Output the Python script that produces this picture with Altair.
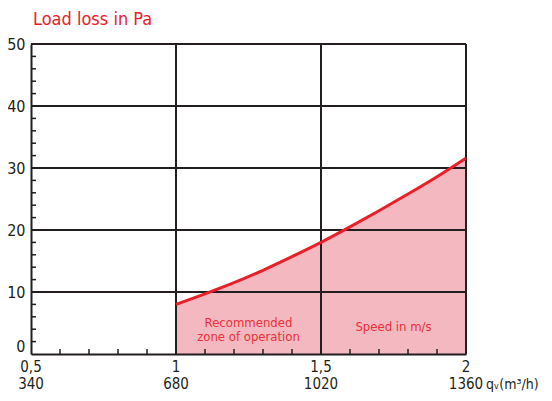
import altair as alt
import pandas as pd

# Data
speed = [1.0, 1.1, 1.2, 1.3, 1.4, 1.5, 1.6, 1.7, 1.8, 1.9, 2.0]
loss = [8.0, 9.7, 11.5, 13.5, 15.7, 18.0, 20.5, 23.1, 25.8, 28.6, 31.6]

speed_ticks = [0.5, 1.0, 1.5, 2.0]
speed_labels = ["0,5", "1", "1,5", "2"]
flow_labels = ["340", "680", "1020", "1360"]
y_ticks = [0, 10, 20, 30, 40, 50]
x_grid = [1.0, 1.5, 2.0]
y_grid = [10, 20, 30, 40, 50]
x_minor = [0.6, 0.7, 0.8, 0.9, 1.1, 1.2, 1.3, 1.4, 1.6, 1.7, 1.8, 1.9]
y_minor = [2, 4, 6, 8, 12, 14, 16, 18, 22, 24, 26, 28, 32, 34, 36, 38, 42, 44, 46, 48]

FONT = "DejaVu Sans Condensed"
RED = "#E8202A"
PINK = "#F4B9C0"
INK = "#231F20"
W, H = 435, 310

xs = alt.Scale(domain=[0.5, 2.0], nice=False, zero=False)
ys = alt.Scale(domain=[0, 50], nice=False)

curve = pd.DataFrame({"v": speed, "p": loss})

xaxis = alt.Axis(values=speed_ticks, labels=False, ticks=False, grid=False,
                 title=None, domainColor=INK, domainWidth=2, zindex=1)
yaxis = alt.Axis(values=y_ticks, ticks=False, grid=False, title=None,
                 domainColor=INK, domainWidth=2, labelFont=FONT, labelFontSize=16,
                 labelColor=INK, labelPadding=6, zindex=1,
                 labelBaseline={"condition": {"test": "datum.value == 0", "value": "bottom"},
                                "value": "middle"})

area = alt.Chart(curve).mark_area(color=PINK, opacity=1, interpolate="monotone").encode(
    x=alt.X("v:Q", scale=xs, axis=xaxis),
    y=alt.Y("p:Q", scale=ys, axis=yaxis),
)

vgrid = alt.Chart(pd.DataFrame({"v": x_grid})).mark_rule(color=INK, strokeWidth=2).encode(
    x=alt.X("v:Q", scale=xs)
)
hgrid = alt.Chart(pd.DataFrame({"p": y_grid})).mark_rule(color=INK, strokeWidth=2).encode(
    y=alt.Y("p:Q", scale=ys)
)

line = alt.Chart(curve).mark_line(color=RED, strokeWidth=3, interpolate="monotone").encode(
    x=alt.X("v:Q", scale=xs), y=alt.Y("p:Q", scale=ys)
)

xminor = alt.Chart(pd.DataFrame({"v": x_minor})).mark_rule(color=INK, strokeWidth=1.5).encode(
    x=alt.X("v:Q", scale=xs), y=alt.value(H), y2=alt.value(H - 5)
)
yminor = alt.Chart(pd.DataFrame({"p": y_minor})).mark_rule(color=INK, strokeWidth=1.5).encode(
    y=alt.Y("p:Q", scale=ys), x=alt.value(0), x2=alt.value(5)
)

lab = pd.DataFrame({"v": speed_ticks, "s": speed_labels, "f": flow_labels})
row1 = alt.Chart(lab).mark_text(font=FONT, fontSize=15, color=INK, baseline="alphabetic").encode(
    x=alt.X("v:Q", scale=xs), y=alt.value(H + 18), text="s:N"
)
row2 = alt.Chart(lab).mark_text(font=FONT, fontSize=15, color=INK, baseline="alphabetic").encode(
    x=alt.X("v:Q", scale=xs), y=alt.value(H + 35), text="f:N"
)
unit = alt.Chart(pd.DataFrame({"v": [2.0], "t": ["qᵥ(m³/h)"]})).mark_text(
    font=FONT, fontSize=14, color=INK, baseline="alphabetic", align="left", dx=20
).encode(x=alt.X("v:Q", scale=xs), y=alt.value(H + 35), text="t:N")

zone = alt.Chart(pd.DataFrame({"v": [1.25], "t": [["Recommended", "zone of operation"]]})).mark_text(
    font=FONT, fontSize=13, color="#E8303A", baseline="middle", lineHeight=14
).encode(x=alt.X("v:Q", scale=xs), y=alt.value(H - 31), text="t")
spd = alt.Chart(pd.DataFrame({"v": [1.75], "t": ["Speed in m/s"]})).mark_text(
    font=FONT, fontSize=13, color="#E8303A", baseline="middle"
).encode(x=alt.X("v:Q", scale=xs), y=alt.value(H - 27), text="t:N")

chart = alt.layer(area, vgrid, hgrid, line, xminor, yminor, row1, row2, unit, zone, spd).properties(
    width=W, height=H,
    title=alt.TitleParams("Load loss in Pa", anchor="start", frame="group", font=FONT, fontSize=18,
                          fontWeight="normal", color=RED, offset=7, dx=2),
    autosize=alt.AutoSizeParams(type="none"),
    padding={"left": 23, "top": 36, "right": 78, "bottom": 39},
).configure_view(stroke=None).configure(background="white")

chart.save("out.html", embed_options={"renderer": "svg", "actions": False})
